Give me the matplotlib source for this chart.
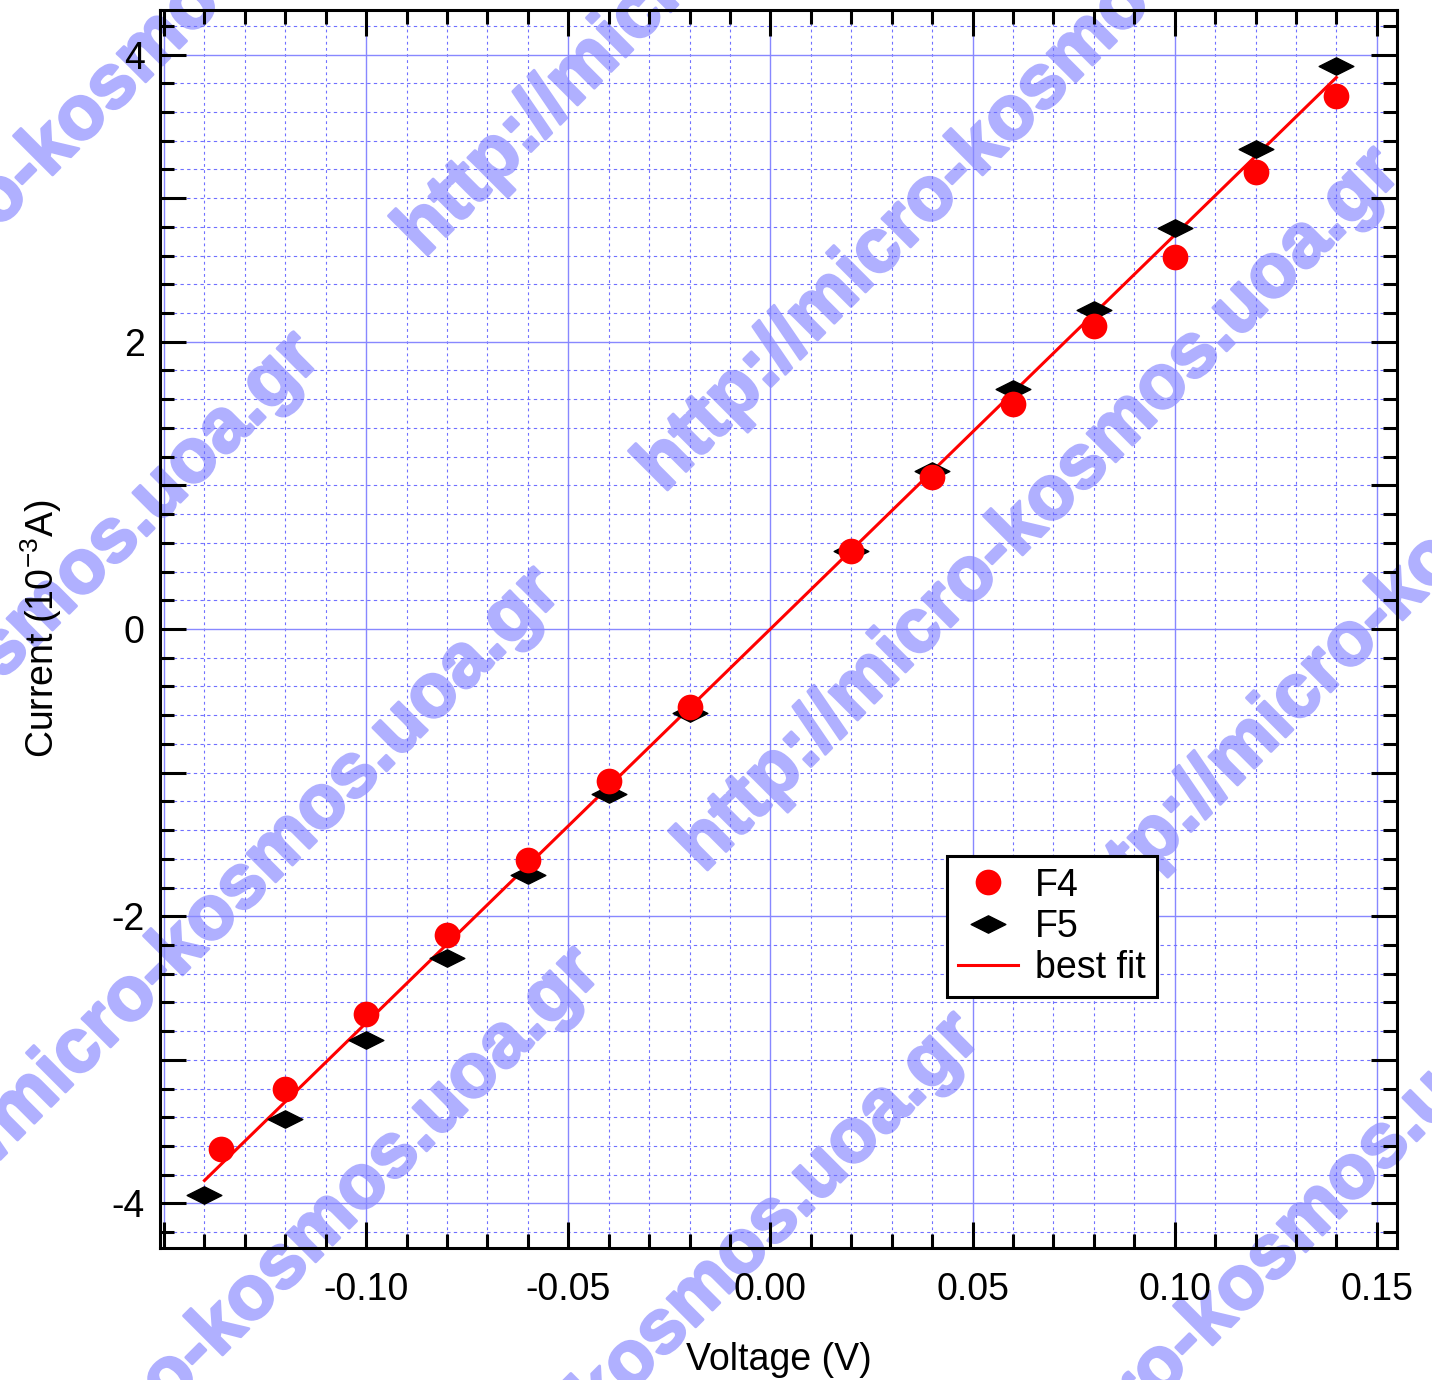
import numpy as np
import matplotlib
matplotlib.use("Agg")
from matplotlib import pyplot as plt
from matplotlib.ticker import MultipleLocator, FuncFormatter
from matplotlib.path import Path
import matplotlib.patheffects as pe

plt.rcParams['font.family'] = ['Liberation Sans', 'DejaVu Sans']
plt.rcParams['mathtext.fontset'] = 'custom'
plt.rcParams['mathtext.rm'] = 'Liberation Sans'
plt.rcParams['mathtext.it'] = 'Liberation Sans'
plt.rcParams['mathtext.default'] = 'regular'

# data
f4_v = [-0.136, -0.12, -0.10, -0.08, -0.06, -0.04, -0.02, 0.02, 0.04, 0.06, 0.08, 0.10, 0.12, 0.14]
f4_i = [-3.62, -3.20, -2.68, -2.13, -1.61, -1.06, -0.54, 0.54, 1.06, 1.57, 2.11, 2.59, 3.18, 3.71]
f5_v = [-0.14, -0.12, -0.10, -0.08, -0.06, -0.04, -0.02, 0.02, 0.04, 0.06, 0.08, 0.10, 0.12, 0.14]
f5_i = [-3.94, -3.41, -2.86, -2.29, -1.71, -1.15, -0.585, 0.54, 1.10, 1.67, 2.22, 2.79, 3.34, 3.92]
fit_v = [-0.14, 0.14]
fit_i = [-3.84, 3.84]

watermark = "http://micro-kosmos.uoa.gr"
# where "http" starts on each diagonal (pixels from top-left)
wm_starts = [(-280, 480), (410, 245), (650, 480), (690, 860), (1070, 925), (880, 1650)]
wm_period = 800

fig = plt.figure(figsize=(14.32, 13.8), dpi=100)
ax = fig.add_axes([160 / 1432, 132 / 1380, 1237 / 1432, 1238 / 1380])
ax.set_xlim(-0.151, 0.155)
ax.set_ylim(-4.31, 4.31)

# grid
for x in np.arange(-0.15, 0.1501, 0.01):
    if abs(round(x / 0.05) * 0.05 - x) < 1e-9:
        ax.axvline(x, color='#8888ff', lw=1.0, zorder=0.5)
    else:
        ax.axvline(x, color='#7070ff', lw=0.8, ls=(0, (2.5, 3)), zorder=0.5)
for y in np.arange(-4.2, 4.21, 0.2):
    if abs(round(y / 2) * 2 - y) < 1e-9:
        ax.axhline(y, color='#8888ff', lw=1.0, zorder=0.5)
    else:
        ax.axhline(y, color='#7070ff', lw=0.8, ls=(0, (3, 3)), zorder=0.5)

# watermark
H = 1380
for sx, sy in wm_starts:
    for k in range(-2, 3):
        px = sx + k * wm_period
        py = sy - k * wm_period
        if px > 1450 or py < -50 or px + 750 < 0 or py - 750 > H:
            continue
        ax.text(px, H - py, watermark, transform=None, rotation=45,
                rotation_mode='anchor', ha='left', va='center',
                fontsize=55, fontweight='bold', color='#b0b0ff',
                zorder=0.3, clip_on=False,
                path_effects=[pe.withStroke(linewidth=2, foreground='#b0b0ff')])

diamond = Path([(-1, 0), (0, 0.5), (1, 0), (0, -0.5), (-1, 0)],
               [Path.MOVETO, Path.LINETO, Path.LINETO, Path.LINETO, Path.CLOSEPOLY])

ax.plot(fit_v, fit_i, color='#ff0000', lw=2.2, zorder=3, label='best fit')
ax.plot(f5_v, f5_i, ls='none', marker=diamond, ms=25, color='black', zorder=4, label='F5')
ax.plot(f4_v, f4_i, ls='none', marker='o', ms=18.5, color='#ff0000', mec='none', zorder=5, label='F4')

ax.xaxis.set_major_locator(MultipleLocator(0.05))
ax.xaxis.set_minor_locator(MultipleLocator(0.01))
ax.yaxis.set_major_locator(MultipleLocator(1))
ax.yaxis.set_minor_locator(MultipleLocator(0.2))
ax.xaxis.set_major_formatter(FuncFormatter(
    lambda v, p: "" if v < -0.149 else f"{v:.2f}".replace("-0.00", "0.00")))
ax.yaxis.set_major_formatter(FuncFormatter(
    lambda v, p: f"{int(round(v))}" if int(round(v)) % 2 == 0 else ""))

ax.tick_params(which='both', direction='in', top=True, right=True, width=2.2, labelsize=27)
ax.tick_params(axis='x', which='major', length=19, pad=17)
ax.tick_params(axis='y', which='major', length=19, pad=11)
ax.tick_params(which='minor', length=10)
for s in ax.spines.values():
    s.set_linewidth(2.2)

ax.set_xlabel("Voltage (V)", fontsize=27, labelpad=25)
ax.set_ylabel("Current (10$^{-3}$A)", fontsize=27, labelpad=34)

handles, labels = ax.get_legend_handles_labels()
leg = ax.legend(handles[::-1], labels[::-1], loc='upper left',
                bbox_to_anchor=((947 - 160) / 1237, (1248 - 857) / 1236),
                borderaxespad=0, fontsize=27, fancybox=False, framealpha=1,
                edgecolor='black', handlelength=1.6, handletextpad=0.45,
                borderpad=0.3, labelspacing=0.14)
leg.get_frame().set_linewidth(2.2)
leg.set_zorder(10)

fig.savefig("out.png", dpi=100)
